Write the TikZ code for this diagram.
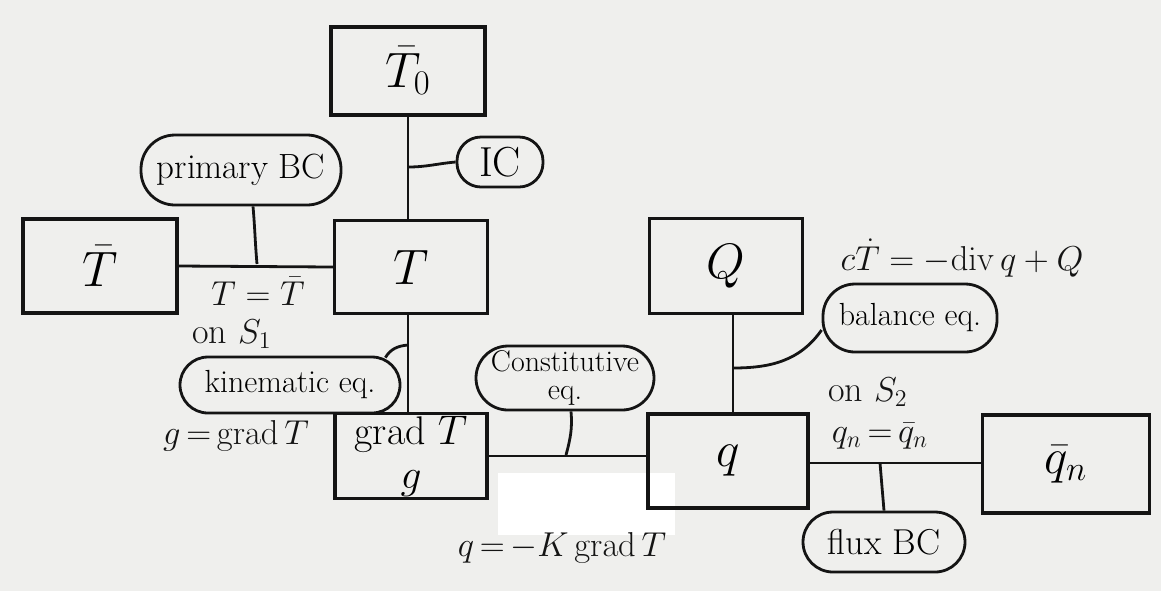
\documentclass[tikz,border=0pt]{standalone}
\definecolor{paper}{RGB}{239,239,237}
\definecolor{ink}{RGB}{20,20,20}
\begin{document}
\begin{tikzpicture}[x=0.5pt,y=-0.5pt,
  box/.style={draw=ink, line width=1.6pt, inner sep=0pt, font=\fontsize{26}{30}\selectfont},
  bubble/.style={draw=ink, rectangle, rounded corners=14pt, line width=1.4pt, inner sep=0pt, font=\fontsize{17}{19}\selectfont},
  link/.style={draw=ink, line width=1.4pt},
  lbl/.style={inner sep=0pt, text=ink, font=\fontsize{18}{21}\selectfont}]
\fill[paper] (0,0) rectangle (1161,591);
\useasboundingbox (0,0) rectangle (1161,591);
% erased patch
\fill[white] (498,473) rectangle (675,535);
% boxes
\node[box, minimum width=77pt, minimum height=44pt] (T0) at (408,71) {$\bar T_0$};
\node[box, minimum width=76.5pt, minimum height=46.5pt] (T) at (411,267) {$T$};
\node[box, minimum width=77pt, minimum height=47pt] (Tb) at (100,266) {$\bar T$};
\node[box, minimum width=76pt, minimum height=42.5pt, align=center, font=\fontsize{20}{24}\selectfont] (G) at (411,456) {grad $T$\\[-2pt]$g$};
\node[box, minimum width=76.5pt, minimum height=47.5pt] (Q) at (726,266) {$Q$};
\node[box, minimum width=80pt, minimum height=47pt] (q) at (728,461) {$q$};
\node[box, minimum width=83.5pt, minimum height=49pt] (qb) at (1066,464) {$\bar q_n$};
% bubbles
\node[bubble, minimum width=43pt, minimum height=25pt, rounded corners=12pt, font=\fontsize{21}{24}\selectfont] (IC) at (500,162) {IC};
\node[bubble, minimum width=100pt, minimum height=35pt, rounded corners=17pt, font=\fontsize{17.5}{20}\selectfont] (PBC) at (241,170) {primary BC};
\node[bubble, minimum width=110pt, minimum height=28pt, font=\fontsize{16}{18}\selectfont] (KIN) at (290,385) {kinematic eq.};
\node[bubble, minimum width=89pt, minimum height=32pt, rounded corners=16pt, align=center, font=\fontsize{15}{16}\selectfont] (CON) at (565,378) {Constitutive\\[-2pt]eq.};
\node[bubble, minimum width=87pt, minimum height=34pt, rounded corners=16pt, font=\fontsize{16}{18}\selectfont] (BAL) at (910,318) {balance eq.};
\node[bubble, minimum width=81pt, minimum height=30pt, rounded corners=15pt, font=\fontsize{18}{21}\selectfont] (FLX) at (884,542) {flux BC};
% feet of connectors on lines
\coordinate (icfoot) at (408,167);
\coordinate (pbcfoot) at (257,264);
\coordinate (kinfoot) at (408,345);
\coordinate (confoot) at (566,455);
\coordinate (balfoot) at (733,368);
\coordinate (flxfoot) at (880,463);
% main connectors
\draw[link] (T0.south) -- (T0.south |- T.north);
\draw[link] (Tb.east) -- (T.west);
\draw[link] (T.south -| kinfoot) -- (G.north -| kinfoot);
\draw[link] (G.east) -- (G.east -| q.west);
\draw[link] (Q.south -| balfoot) -- (q.north -| balfoot);
\draw[link] (q.east |- flxfoot) -- (qb.west |- flxfoot);
% bubble connectors
\draw[link] (icfoot) to[out=0,in=185] (IC.west);
\draw[link] ([xshift=6pt]PBC.south) to[out=-85,in=95] (pbcfoot);
\draw[link] ([xshift=-8pt,yshift=-1pt]KIN.north east) to[out=60,in=185] (kinfoot);
\draw[link] ([xshift=3pt]CON.south) to[out=-85,in=75] (confoot);
\draw[link] (balfoot) to[out=0,in=235] ([yshift=-6pt]BAL.west);
\draw[link] (FLX.north) -- (flxfoot);
% labels
\node[lbl] (l1) at (258,291) {$T=\bar T$};
\node[lbl] (l2) at (232,334) {on $S_1$};
\node[lbl, font=\fontsize{17}{20}\selectfont] (l3) at (236,436) {$g\,{=}\,\mathrm{grad}\,T$};
\node[lbl, font=\fontsize{17}{20}\selectfont] (l4) at (562,548) {$q\,{=}\,{-}K\,\mathrm{grad}\,T$};
\node[lbl] (l5) at (962,258) {$c\dot T=-\mathrm{div}\,q+Q$};
\node[lbl] (l6) at (868,392) {on $S_2$};
\node[lbl] (l7) at (880,436) {$q_n\,{=}\,\bar q_n$};
\end{tikzpicture}
\end{document}
